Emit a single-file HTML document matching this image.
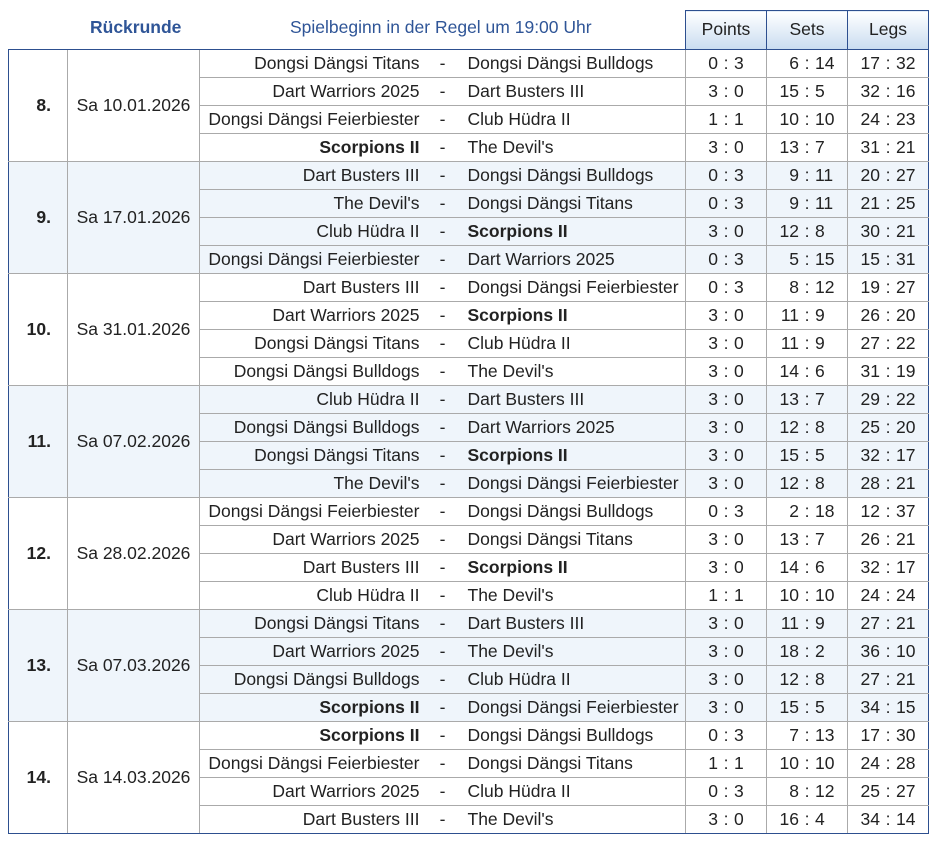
<!DOCTYPE html>
<html><head><meta charset="utf-8"><style>
body{margin:0;background:#fff;width:937px;height:842px;overflow:hidden;font-family:"Liberation Sans",sans-serif;font-size:17.5px;color:#222}
.hd{position:absolute;top:9px;height:37px;line-height:37px;color:#2f5597}
table{position:absolute;left:8px;top:10px;border-collapse:collapse;table-layout:fixed}
td{height:25px;padding:0 0 2px 0;border:1px solid #aaa;white-space:nowrap;line-height:20px}
th{height:36px;border:1px solid #2d4f8f;font-weight:normal;background:linear-gradient(#fff,#c9dcf0);color:#222;padding:0 0 2px 0}
th.e{background:none;border:none;border-bottom:1px solid #2d4f8f}
tr.g td{border-top:1px solid #2d4f8f}
.b td{background:#eff5fb}
td.md{text-align:right;padding-right:16px;font-weight:bold;border-left:1.5px solid #2d4f8f}
td.dt{text-align:center}
td.h{text-align:right;padding-right:10px;border-right:none}
td.d{text-align:center;border-left:none;border-right:none}
td.a{padding-left:12px;border-left:none}
td.s{text-align:center}
td.l{border-right:1.5px solid #2d4f8f}
tr.last td{border-bottom:1.5px solid #2d4f8f}
.n{display:inline-block;width:28px;text-align:right}.c{display:inline-block;width:16px;text-align:center}.m{display:inline-block;width:28px;text-align:left}
b{font-weight:bold}
</style></head><body>
<div class="hd" style="left:90px;font-weight:bold">Rückrunde</div>
<div class="hd" style="left:290px">Spielbeginn in der Regel um 19:00 Uhr</div>
<table>
<colgroup><col style="width:59px"><col style="width:132px"><col style="width:230px"><col style="width:26px"><col style="width:230px"><col style="width:81px"><col style="width:81px"><col style="width:81px"></colgroup>
<tr><th class="e"></th><th class="e"></th><th class="e"></th><th class="e"></th><th class="e"></th><th>Points</th><th>Sets</th><th>Legs</th></tr>

<tr class="g"><td class="md" rowspan="4">8.</td><td class="dt" rowspan="4">Sa 10.01.2026</td><td class="h">Dongsi Dängsi Titans</td><td class="d">-</td><td class="a">Dongsi Dängsi Bulldogs</td><td class="s"><span class="n">0</span><span class="c">:</span><span class="m">3</span></td><td class="s"><span class="n">6</span><span class="c">:</span><span class="m">14</span></td><td class="s l"><span class="n">17</span><span class="c">:</span><span class="m">32</span></td></tr>
<tr><td class="h">Dart Warriors 2025</td><td class="d">-</td><td class="a">Dart Busters III</td><td class="s"><span class="n">3</span><span class="c">:</span><span class="m">0</span></td><td class="s"><span class="n">15</span><span class="c">:</span><span class="m">5</span></td><td class="s l"><span class="n">32</span><span class="c">:</span><span class="m">16</span></td></tr>
<tr><td class="h">Dongsi Dängsi Feierbiester</td><td class="d">-</td><td class="a">Club Hüdra II</td><td class="s"><span class="n">1</span><span class="c">:</span><span class="m">1</span></td><td class="s"><span class="n">10</span><span class="c">:</span><span class="m">10</span></td><td class="s l"><span class="n">24</span><span class="c">:</span><span class="m">23</span></td></tr>
<tr><td class="h"><b>Scorpions II</b></td><td class="d">-</td><td class="a">The Devil's</td><td class="s"><span class="n">3</span><span class="c">:</span><span class="m">0</span></td><td class="s"><span class="n">13</span><span class="c">:</span><span class="m">7</span></td><td class="s l"><span class="n">31</span><span class="c">:</span><span class="m">21</span></td></tr>

<tr class="g b"><td class="md" rowspan="4">9.</td><td class="dt" rowspan="4">Sa 17.01.2026</td><td class="h">Dart Busters III</td><td class="d">-</td><td class="a">Dongsi Dängsi Bulldogs</td><td class="s"><span class="n">0</span><span class="c">:</span><span class="m">3</span></td><td class="s"><span class="n">9</span><span class="c">:</span><span class="m">11</span></td><td class="s l"><span class="n">20</span><span class="c">:</span><span class="m">27</span></td></tr>
<tr class="b"><td class="h">The Devil's</td><td class="d">-</td><td class="a">Dongsi Dängsi Titans</td><td class="s"><span class="n">0</span><span class="c">:</span><span class="m">3</span></td><td class="s"><span class="n">9</span><span class="c">:</span><span class="m">11</span></td><td class="s l"><span class="n">21</span><span class="c">:</span><span class="m">25</span></td></tr>
<tr class="b"><td class="h">Club Hüdra II</td><td class="d">-</td><td class="a"><b>Scorpions II</b></td><td class="s"><span class="n">3</span><span class="c">:</span><span class="m">0</span></td><td class="s"><span class="n">12</span><span class="c">:</span><span class="m">8</span></td><td class="s l"><span class="n">30</span><span class="c">:</span><span class="m">21</span></td></tr>
<tr class="b"><td class="h">Dongsi Dängsi Feierbiester</td><td class="d">-</td><td class="a">Dart Warriors 2025</td><td class="s"><span class="n">0</span><span class="c">:</span><span class="m">3</span></td><td class="s"><span class="n">5</span><span class="c">:</span><span class="m">15</span></td><td class="s l"><span class="n">15</span><span class="c">:</span><span class="m">31</span></td></tr>

<tr class="g"><td class="md" rowspan="4">10.</td><td class="dt" rowspan="4">Sa 31.01.2026</td><td class="h">Dart Busters III</td><td class="d">-</td><td class="a">Dongsi Dängsi Feierbiester</td><td class="s"><span class="n">0</span><span class="c">:</span><span class="m">3</span></td><td class="s"><span class="n">8</span><span class="c">:</span><span class="m">12</span></td><td class="s l"><span class="n">19</span><span class="c">:</span><span class="m">27</span></td></tr>
<tr><td class="h">Dart Warriors 2025</td><td class="d">-</td><td class="a"><b>Scorpions II</b></td><td class="s"><span class="n">3</span><span class="c">:</span><span class="m">0</span></td><td class="s"><span class="n">11</span><span class="c">:</span><span class="m">9</span></td><td class="s l"><span class="n">26</span><span class="c">:</span><span class="m">20</span></td></tr>
<tr><td class="h">Dongsi Dängsi Titans</td><td class="d">-</td><td class="a">Club Hüdra II</td><td class="s"><span class="n">3</span><span class="c">:</span><span class="m">0</span></td><td class="s"><span class="n">11</span><span class="c">:</span><span class="m">9</span></td><td class="s l"><span class="n">27</span><span class="c">:</span><span class="m">22</span></td></tr>
<tr><td class="h">Dongsi Dängsi Bulldogs</td><td class="d">-</td><td class="a">The Devil's</td><td class="s"><span class="n">3</span><span class="c">:</span><span class="m">0</span></td><td class="s"><span class="n">14</span><span class="c">:</span><span class="m">6</span></td><td class="s l"><span class="n">31</span><span class="c">:</span><span class="m">19</span></td></tr>

<tr class="g b"><td class="md" rowspan="4">11.</td><td class="dt" rowspan="4">Sa 07.02.2026</td><td class="h">Club Hüdra II</td><td class="d">-</td><td class="a">Dart Busters III</td><td class="s"><span class="n">3</span><span class="c">:</span><span class="m">0</span></td><td class="s"><span class="n">13</span><span class="c">:</span><span class="m">7</span></td><td class="s l"><span class="n">29</span><span class="c">:</span><span class="m">22</span></td></tr>
<tr class="b"><td class="h">Dongsi Dängsi Bulldogs</td><td class="d">-</td><td class="a">Dart Warriors 2025</td><td class="s"><span class="n">3</span><span class="c">:</span><span class="m">0</span></td><td class="s"><span class="n">12</span><span class="c">:</span><span class="m">8</span></td><td class="s l"><span class="n">25</span><span class="c">:</span><span class="m">20</span></td></tr>
<tr class="b"><td class="h">Dongsi Dängsi Titans</td><td class="d">-</td><td class="a"><b>Scorpions II</b></td><td class="s"><span class="n">3</span><span class="c">:</span><span class="m">0</span></td><td class="s"><span class="n">15</span><span class="c">:</span><span class="m">5</span></td><td class="s l"><span class="n">32</span><span class="c">:</span><span class="m">17</span></td></tr>
<tr class="b"><td class="h">The Devil's</td><td class="d">-</td><td class="a">Dongsi Dängsi Feierbiester</td><td class="s"><span class="n">3</span><span class="c">:</span><span class="m">0</span></td><td class="s"><span class="n">12</span><span class="c">:</span><span class="m">8</span></td><td class="s l"><span class="n">28</span><span class="c">:</span><span class="m">21</span></td></tr>

<tr class="g"><td class="md" rowspan="4">12.</td><td class="dt" rowspan="4">Sa 28.02.2026</td><td class="h">Dongsi Dängsi Feierbiester</td><td class="d">-</td><td class="a">Dongsi Dängsi Bulldogs</td><td class="s"><span class="n">0</span><span class="c">:</span><span class="m">3</span></td><td class="s"><span class="n">2</span><span class="c">:</span><span class="m">18</span></td><td class="s l"><span class="n">12</span><span class="c">:</span><span class="m">37</span></td></tr>
<tr><td class="h">Dart Warriors 2025</td><td class="d">-</td><td class="a">Dongsi Dängsi Titans</td><td class="s"><span class="n">3</span><span class="c">:</span><span class="m">0</span></td><td class="s"><span class="n">13</span><span class="c">:</span><span class="m">7</span></td><td class="s l"><span class="n">26</span><span class="c">:</span><span class="m">21</span></td></tr>
<tr><td class="h">Dart Busters III</td><td class="d">-</td><td class="a"><b>Scorpions II</b></td><td class="s"><span class="n">3</span><span class="c">:</span><span class="m">0</span></td><td class="s"><span class="n">14</span><span class="c">:</span><span class="m">6</span></td><td class="s l"><span class="n">32</span><span class="c">:</span><span class="m">17</span></td></tr>
<tr><td class="h">Club Hüdra II</td><td class="d">-</td><td class="a">The Devil's</td><td class="s"><span class="n">1</span><span class="c">:</span><span class="m">1</span></td><td class="s"><span class="n">10</span><span class="c">:</span><span class="m">10</span></td><td class="s l"><span class="n">24</span><span class="c">:</span><span class="m">24</span></td></tr>

<tr class="g b"><td class="md" rowspan="4">13.</td><td class="dt" rowspan="4">Sa 07.03.2026</td><td class="h">Dongsi Dängsi Titans</td><td class="d">-</td><td class="a">Dart Busters III</td><td class="s"><span class="n">3</span><span class="c">:</span><span class="m">0</span></td><td class="s"><span class="n">11</span><span class="c">:</span><span class="m">9</span></td><td class="s l"><span class="n">27</span><span class="c">:</span><span class="m">21</span></td></tr>
<tr class="b"><td class="h">Dart Warriors 2025</td><td class="d">-</td><td class="a">The Devil's</td><td class="s"><span class="n">3</span><span class="c">:</span><span class="m">0</span></td><td class="s"><span class="n">18</span><span class="c">:</span><span class="m">2</span></td><td class="s l"><span class="n">36</span><span class="c">:</span><span class="m">10</span></td></tr>
<tr class="b"><td class="h">Dongsi Dängsi Bulldogs</td><td class="d">-</td><td class="a">Club Hüdra II</td><td class="s"><span class="n">3</span><span class="c">:</span><span class="m">0</span></td><td class="s"><span class="n">12</span><span class="c">:</span><span class="m">8</span></td><td class="s l"><span class="n">27</span><span class="c">:</span><span class="m">21</span></td></tr>
<tr class="b"><td class="h"><b>Scorpions II</b></td><td class="d">-</td><td class="a">Dongsi Dängsi Feierbiester</td><td class="s"><span class="n">3</span><span class="c">:</span><span class="m">0</span></td><td class="s"><span class="n">15</span><span class="c">:</span><span class="m">5</span></td><td class="s l"><span class="n">34</span><span class="c">:</span><span class="m">15</span></td></tr>

<tr class="g"><td class="md" rowspan="4" style="border-bottom:1.5px solid #2d4f8f">14.</td><td class="dt" rowspan="4" style="border-bottom:1.5px solid #2d4f8f">Sa 14.03.2026</td><td class="h"><b>Scorpions II</b></td><td class="d">-</td><td class="a">Dongsi Dängsi Bulldogs</td><td class="s"><span class="n">0</span><span class="c">:</span><span class="m">3</span></td><td class="s"><span class="n">7</span><span class="c">:</span><span class="m">13</span></td><td class="s l"><span class="n">17</span><span class="c">:</span><span class="m">30</span></td></tr>
<tr><td class="h">Dongsi Dängsi Feierbiester</td><td class="d">-</td><td class="a">Dongsi Dängsi Titans</td><td class="s"><span class="n">1</span><span class="c">:</span><span class="m">1</span></td><td class="s"><span class="n">10</span><span class="c">:</span><span class="m">10</span></td><td class="s l"><span class="n">24</span><span class="c">:</span><span class="m">28</span></td></tr>
<tr><td class="h">Dart Warriors 2025</td><td class="d">-</td><td class="a">Club Hüdra II</td><td class="s"><span class="n">0</span><span class="c">:</span><span class="m">3</span></td><td class="s"><span class="n">8</span><span class="c">:</span><span class="m">12</span></td><td class="s l"><span class="n">25</span><span class="c">:</span><span class="m">27</span></td></tr>
<tr class="last"><td class="h">Dart Busters III</td><td class="d">-</td><td class="a">The Devil's</td><td class="s"><span class="n">3</span><span class="c">:</span><span class="m">0</span></td><td class="s"><span class="n">16</span><span class="c">:</span><span class="m">4</span></td><td class="s l"><span class="n">34</span><span class="c">:</span><span class="m">14</span></td></tr>
</table>
</body></html>
